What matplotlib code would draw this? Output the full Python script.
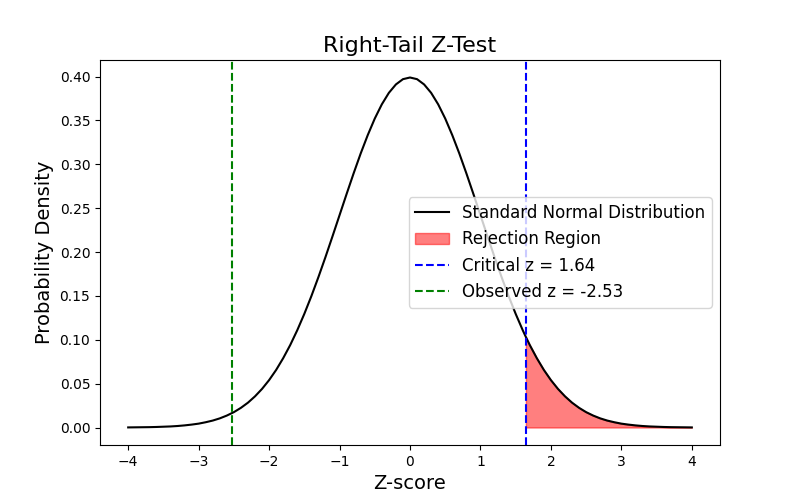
import numpy as np
import matplotlib
matplotlib.use("Agg")
import matplotlib.pyplot as plt

# density values (step 0.1, plus the critical point)
z_vals = [-4.0, -3.9, -3.8, -3.7, -3.6, -3.5, -3.4, -3.3, -3.2, -3.1,
          -3.0, -2.9, -2.8, -2.7, -2.6, -2.5, -2.4, -2.3, -2.2, -2.1,
          -2.0, -1.9, -1.8, -1.7, -1.6, -1.5, -1.4, -1.3, -1.2, -1.1,
          -1.0, -0.9, -0.8, -0.7, -0.6, -0.5, -0.4, -0.3, -0.2, -0.1,
          0.0, 0.1, 0.2, 0.3, 0.4, 0.5, 0.6, 0.7, 0.8, 0.9,
          1.0, 1.1, 1.2, 1.3, 1.4, 1.5, 1.6, 1.645, 1.7, 1.8, 1.9,
          2.0, 2.1, 2.2, 2.3, 2.4, 2.5, 2.6, 2.7, 2.8, 2.9,
          3.0, 3.1, 3.2, 3.3, 3.4, 3.5, 3.6, 3.7, 3.8, 3.9, 4.0]
density = [0.0001, 0.0002, 0.0003, 0.0004, 0.0006, 0.0009, 0.0012, 0.0017, 0.0024, 0.0033,
           0.0044, 0.0060, 0.0079, 0.0104, 0.0136, 0.0175, 0.0224, 0.0283, 0.0355, 0.0440,
           0.0540, 0.0656, 0.0790, 0.0940, 0.1109, 0.1295, 0.1497, 0.1714, 0.1942, 0.2179,
           0.2420, 0.2661, 0.2897, 0.3123, 0.3332, 0.3521, 0.3683, 0.3814, 0.3910, 0.3970,
           0.3989, 0.3970, 0.3910, 0.3814, 0.3683, 0.3521, 0.3332, 0.3123, 0.2897, 0.2661,
           0.2420, 0.2179, 0.1942, 0.1714, 0.1497, 0.1295, 0.1109, 0.1031, 0.0940, 0.0790, 0.0656,
           0.0540, 0.0440, 0.0355, 0.0283, 0.0224, 0.0175, 0.0136, 0.0104, 0.0079, 0.0060,
           0.0044, 0.0033, 0.0024, 0.0017, 0.0012, 0.0009, 0.0006, 0.0004, 0.0003, 0.0002, 0.0001]

z_crit = 1.645
z_obs = -2.53

z = np.array(z_vals)
y = np.array(density)

fig, ax = plt.subplots(figsize=(8, 5), dpi=100)
ax.plot(z, y, color='black', label='Standard Normal Distribution', lw=1.5)
ax.fill_between(z, 0, y, where=z >= z_crit, color='red', alpha=0.5, label='Rejection Region')
ax.axvline(z_crit, color='blue', linestyle='--', label='Critical z = 1.64')
ax.axvline(z_obs, color='green', linestyle='--', label=f'Observed z = {z_obs:.2f}')

ax.set_title('Right-Tail Z-Test', fontsize=16)
ax.set_xlabel('Z-score', fontsize=14)
ax.set_ylabel('Probability Density', fontsize=14)
ax.legend(loc='center right', fontsize=12)

plt.savefig('out.png')
